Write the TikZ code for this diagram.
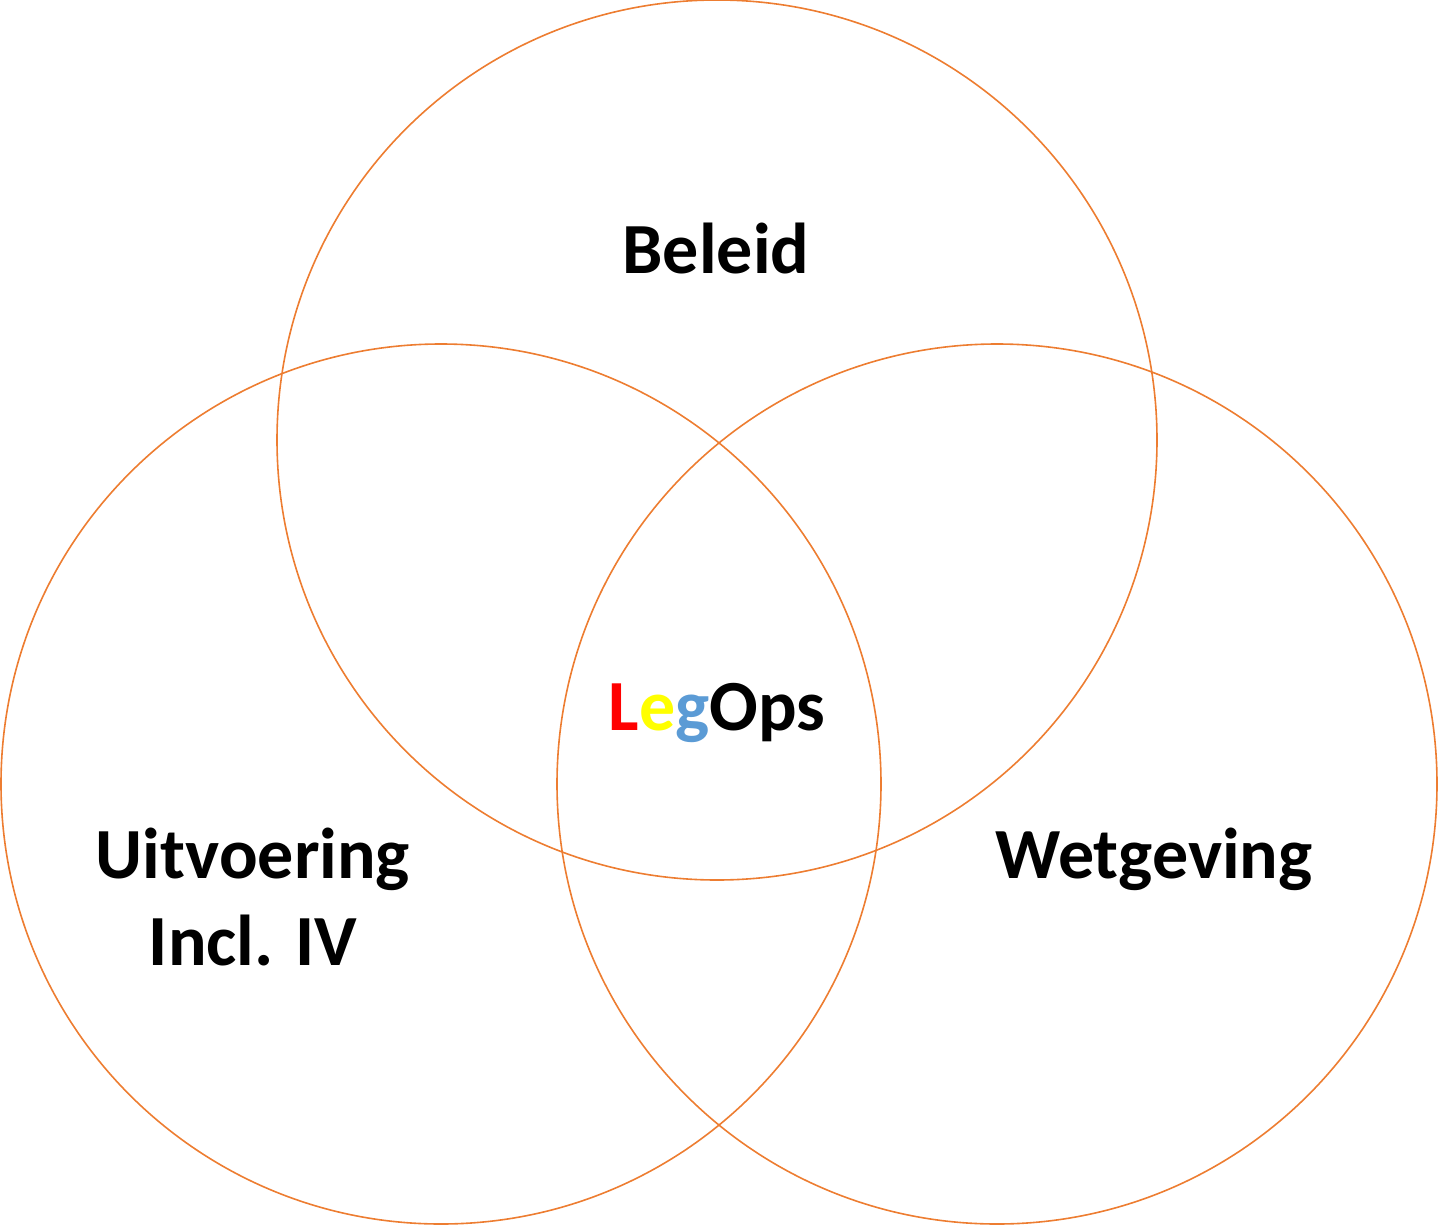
\documentclass[tikz,border=0pt]{standalone}
\usepackage{fontspec}
\setmainfont{Carlito}
\definecolor{ring}{HTML}{ED7D31}
\definecolor{lred}{HTML}{FF0000}
\definecolor{lyellow}{HTML}{FFFF00}
\definecolor{lblue}{HTML}{5B9BD5}
\begin{document}
\begin{tikzpicture}[x=1pt,y=-1pt,
  ring/.style={draw=ring,line width=1.6pt},
  lbl/.style={font=\fontsize{72}{87}\selectfont\bfseries,anchor=base,inner sep=0pt,align=center}]
\useasboundingbox (0,0) rectangle (1440,1226);
\draw[ring] (717,440) circle[radius=440] coordinate (ctop);
\draw[ring] (441,784) circle[radius=440] coordinate (cleft);
\draw[ring] (997,784) circle[radius=440] coordinate (cright);
\node[lbl] (beleid) at (716,273) {Beleid};
\node[lbl] (legops) at (717,730) {\textcolor{lred}{L}\textcolor{lyellow}{e}\textcolor{lblue}{g}Ops};
\node[lbl] (uitv) at (253,965) {Uitvoering\\Incl. IV};
\node[lbl] (wetg) at (1154,878) {Wetgeving};
\end{tikzpicture}
\end{document}
